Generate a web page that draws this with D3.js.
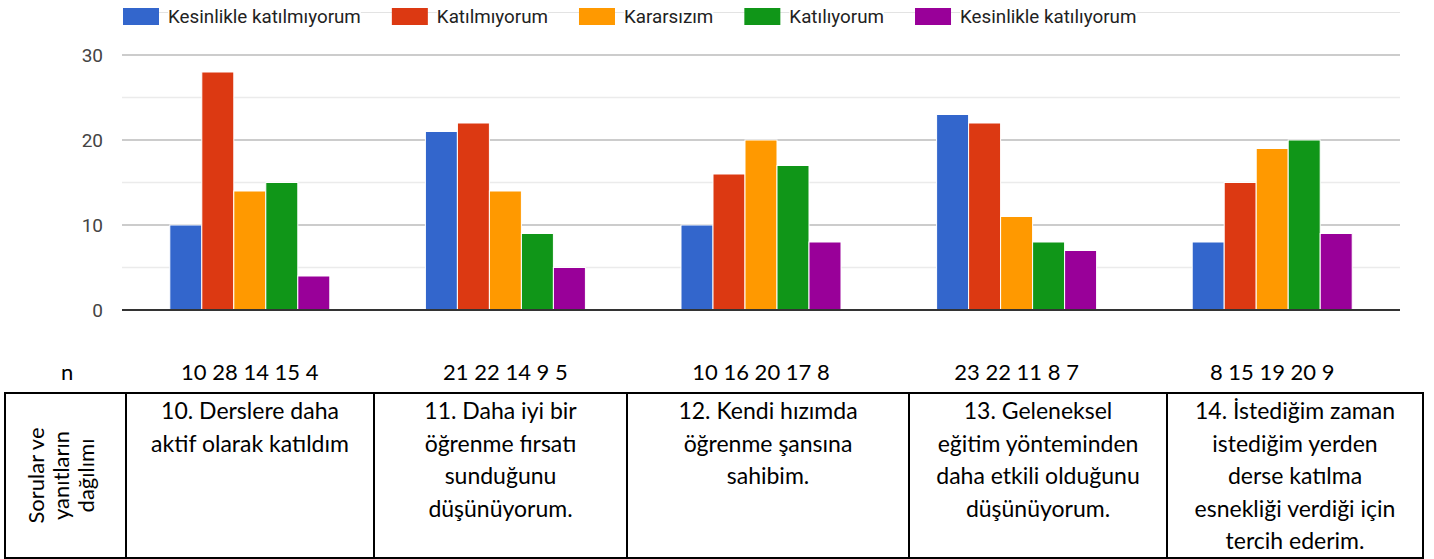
<!DOCTYPE html>
<html>
<head>
<meta charset="utf-8">
<script src="https://cdn.jsdelivr.net/npm/d3@7"></script>
<style>
  body { margin: 0; background: #fff; }
  svg { display: block; }
</style>
</head>
<body>
<div id="wrapper"></div>
<script>
const seriesNames = ["Kesinlikle katılmıyorum", "Katılmıyorum", "Kararsızım", "Katılıyorum", "Kesinlikle katılıyorum"]
const seriesColors = ["#3366cc", "#dc3912", "#ff9900", "#109618", "#990099"]
const questions = ["Q10", "Q11", "Q12", "Q13", "Q14"]
const stronglyDisagree = [10, 21, 10, 23, 8]
const disagree = [28, 22, 16, 22, 15]
const undecided = [14, 14, 20, 11, 19]
const agree = [15, 9, 17, 8, 20]
const stronglyAgree = [4, 5, 8, 7, 9]
const yTicks = [0, 10, 20, 30]
const minorTicks = [5, 15, 25]
const rowLabel = ["Sorular ve", "yanıtların", "dağılımı"]
const questionLines = [
  ["10. Derslere daha", "aktif olarak katıldım"],
  ["11. Daha iyi bir", "öğrenme fırsatı", "sunduğunu", "düşünüyorum."],
  ["12. Kendi hızımda", "öğrenme şansına", "sahibim."],
  ["13. Geleneksel", "eğitim yönteminden", "daha etkili olduğunu", "düşünüyorum."],
  ["14. İstediğim zaman", "istediğim yerden", "derse katılma", "esnekliği verdiği için", "tercih ederim."]
]

const series = [stronglyDisagree, disagree, undecided, agree, stronglyAgree]
const data = questions.map((q, i) => ({
  q,
  values: series.map((s, j) => ({ key: seriesNames[j], value: s[i] }))
}))

const width = 1434
const height = 559
const plot = { left: 122, right: 1400, top: 55, bottom: 310 }
const chartFont = "Roboto, 'Liberation Sans', Arial, sans-serif"
const tableFont = "Lato, 'Noto Sans', sans-serif"

const svg = d3.select("#wrapper")
  .append("svg")
    .attr("width", width)
    .attr("height", height)

const xScale = d3.scaleBand()
    .domain(questions)
    .range([plot.left, plot.right])
    .paddingInner(0.374)
    .paddingOuter(0.187)

const xInner = d3.scaleBand()
    .domain(seriesNames)
    .range([0, xScale.bandwidth()])

const yScale = d3.scaleLinear()
    .domain([0, 30])
    .range([plot.bottom, plot.top])

const color = d3.scaleOrdinal()
    .domain(seriesNames)
    .range(seriesColors)

// gridlines
svg.append("g")
  .selectAll("line")
  .data(minorTicks)
  .join("line")
    .attr("x1", plot.left)
    .attr("x2", plot.right)
    .attr("y1", d => yScale(d))
    .attr("y2", d => yScale(d))
    .attr("stroke", "#ebebeb")
    .attr("stroke-width", 1.5)

svg.append("g")
  .selectAll("line")
  .data(yTicks.filter(d => d > 0))
  .join("line")
    .attr("x1", plot.left)
    .attr("x2", plot.right)
    .attr("y1", d => yScale(d))
    .attr("y2", d => yScale(d))
    .attr("stroke", "#cccccc")
    .attr("stroke-width", 2)

const yAxis = svg.append("g")
    .attr("transform", `translate(${plot.left},0)`)
    .call(d3.axisLeft(yScale).tickValues(yTicks).tickSize(0).tickPadding(19))
yAxis.select(".domain").remove()
yAxis.selectAll("text")
    .attr("font-family", chartFont)
    .attr("font-size", 19)
    .attr("fill", "#444")

// bars
svg.append("g")
  .selectAll("g")
  .data(data)
  .join("g")
    .attr("transform", d => `translate(${xScale(d.q)},0)`)
  .selectAll("rect")
  .data(d => d.values)
  .join("rect")
    .attr("x", d => xInner(d.key))
    .attr("width", xInner.bandwidth())
    .attr("y", d => yScale(d.value))
    .attr("height", d => yScale(0) - yScale(d.value))
    .attr("fill", d => color(d.key))
    .attr("stroke", "#fff")
    .attr("stroke-width", 1)

// baseline
svg.append("line")
    .attr("x1", plot.left)
    .attr("x2", plot.right)
    .attr("y1", yScale(0))
    .attr("y2", yScale(0))
    .attr("stroke", "#333")
    .attr("stroke-width", 2)

// legend
const legend = svg.append("g")
legend.append("line")
    .attr("x1", 123)
    .attr("x2", plot.right)
    .attr("y1", 12.5)
    .attr("y2", 12.5)
    .attr("stroke", "#e3e3e3")
    .attr("stroke-width", 1)

let lx = 123
seriesNames.forEach(name => {
  legend.append("rect")
      .attr("x", lx)
      .attr("y", 8)
      .attr("width", 36)
      .attr("height", 17)
      .attr("fill", color(name))
  const bg = legend.append("rect").attr("fill", "#fff")
  const t = legend.append("text")
      .attr("x", lx + 45)
      .attr("y", 23)
      .attr("font-family", chartFont)
      .attr("font-size", 18.8)
      .attr("fill", "#222")
      .text(name)
  const w = t.node().getComputedTextLength()
  bg.attr("x", lx + 45).attr("y", 5).attr("width", w).attr("height", 22)
  lx += 45 + w + 31
})

// n row
const nRow = svg.append("g")
    .attr("font-family", tableFont)
    .attr("font-size", 22)
    .attr("fill", "#000")
nRow.append("text")
    .attr("x", 61)
    .attr("y", 380)
    .text("n")
nRow.selectAll("text.n")
  .data(data)
  .join("text")
    .attr("class", "n")
    .attr("x", d => xScale(d.q) + xScale.bandwidth() / 2)
    .attr("y", 380)
    .attr("text-anchor", "middle")
    .text(d => d.values.map(v => v.value).join(" "))

// table
const colEdges = [5, 126, 374, 627, 909, 1167, 1423]
const table = { top: 393, bottom: 558 }
const tbl = svg.append("g")

tbl.append("rect")
    .attr("x", colEdges[0])
    .attr("y", table.top)
    .attr("width", colEdges[colEdges.length - 1] - colEdges[0])
    .attr("height", table.bottom - table.top)
    .attr("fill", "none")
    .attr("stroke", "#000")
    .attr("stroke-width", 2)

tbl.selectAll("line")
  .data(colEdges.slice(1, -1))
  .join("line")
    .attr("x1", d => d)
    .attr("x2", d => d)
    .attr("y1", table.top)
    .attr("y2", table.bottom)
    .attr("stroke", "#000")
    .attr("stroke-width", 2)

const midY = (table.top + table.bottom) / 2
tbl.selectAll("text.row")
  .data(rowLabel)
  .join("text")
    .attr("class", "row")
    .attr("transform", (d, i) => `translate(${44 + i * 25},${midY}) rotate(-90)`)
    .attr("text-anchor", "middle")
    .attr("font-family", tableFont)
    .attr("font-size", 22)
    .text(d => d)

const cells = tbl.selectAll("g.cell")
  .data(questionLines)
  .join("g")
    .attr("class", "cell")
    .attr("transform", (d, i) => `translate(${(colEdges[i + 1] + colEdges[i + 2]) / 2},0)`)

cells.selectAll("text")
  .data(d => d)
  .join("text")
    .attr("x", 0)
    .attr("y", (d, i) => 419 + i * 32.5)
    .attr("text-anchor", "middle")
    .attr("font-family", tableFont)
    .attr("font-size", 23)
    .attr("fill", "#000")
    .text(d => d)
</script>
</body>
</html>
